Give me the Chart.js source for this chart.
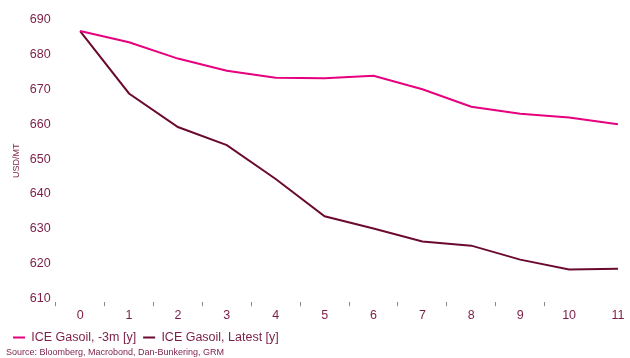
<!DOCTYPE html>
<html>
<head>
<meta charset="utf-8">
<script src="https://cdn.jsdelivr.net/npm/chart.js@4.4.1/dist/chart.umd.min.js"></script>
<style>
  html, body { margin: 0; padding: 0; background: #ffffff; }
  #wrap { width: 630px; height: 358px; }
</style>
</head>
<body>
<div id="wrap"><canvas id="c" width="630" height="358"></canvas></div>
<script>
// Forward curve months ahead
const months = [0, 1, 2, 3, 4, 5, 6, 7, 8, 9, 10, 11];
// ICE Gasoil forward curve three months ago (USD/MT)
const gasoil3m = [686.7, 683.5, 678.8, 675.3, 673.3, 673.2, 673.9, 670.0, 665.0, 663.0, 661.9, 660.0];
// Latest ICE Gasoil forward curve (USD/MT)
const gasoilLatest = [686.7, 668.8, 659.2, 654.0, 644.3, 633.6, 630.1, 626.4, 625.2, 621.2, 618.4, 618.6];
// Value axis labels
const yTicks = [610, 620, 630, 640, 650, 660, 670, 680, 690];
// Tick marks sit between the months
const xMarks = months.slice(0, -1).map(m => m - 0.5);

const TEXT = '#7b1e46';
const PINK = '#e6007e';
const DARK = '#6b0a30';
const FONT = "'Liberation Sans', Arial, sans-serif";

const toPts = arr => arr.map((v, i) => ({ x: months[i], y: v }));

new Chart(document.getElementById('c'), {
  type: 'line',
  data: {
    datasets: [
      {
        label: 'ICE Gasoil, -3m [y]',
        data: toPts(gasoil3m),
        borderColor: PINK,
        backgroundColor: PINK,
        borderWidth: 2,
        pointRadius: 0,
        tension: 0
      },
      {
        label: 'ICE Gasoil, Latest [y]',
        data: toPts(gasoilLatest),
        borderColor: DARK,
        backgroundColor: DARK,
        borderWidth: 2,
        pointRadius: 0,
        tension: 0
      }
    ]
  },
  options: {
    responsive: false,
    animation: false,
    layout: { padding: { top: 19.5, right: 12, left: 6, bottom: 0 } },
    scales: {
      xMarks: {
        type: 'linear',
        position: 'bottom',
        weight: -1,
        min: -0.5,
        max: 11,
        afterBuildTicks: s => { s.ticks = xMarks.map(v => ({ value: v })); },
        ticks: { display: false, padding: 0 },
        grid: { drawOnChartArea: false, drawTicks: true, tickLength: 4, color: '#8a8a8a', lineWidth: 1 },
        border: { display: false }
      },
      x: {
        type: 'linear',
        position: 'bottom',
        weight: 0,
        min: -0.5,
        max: 11,
        afterBuildTicks: s => { s.ticks = months.map(v => ({ value: v })); },
        ticks: { color: TEXT, font: { family: FONT, size: 12.5 }, padding: 1.5, maxRotation: 0 },
        grid: { display: false, drawTicks: false, tickLength: 0 },
        border: { display: false }
      },
      y: {
        type: 'linear',
        min: 609,
        max: 690,
        afterBuildTicks: s => { s.ticks = yTicks.map(v => ({ value: v })); },
        ticks: { color: TEXT, font: { family: FONT, size: 12.5 }, padding: 5 },
        grid: { display: false, drawTicks: false, tickLength: 0 },
        border: { display: false },
        title: {
          display: true,
          text: 'USD/MT',
          color: TEXT,
          font: { family: FONT, size: 9 },
          padding: { top: 5, bottom: 3 }
        }
      }
    },
    plugins: {
      legend: {
        position: 'bottom',
        align: 'start',
        labels: {
          color: TEXT,
          font: { family: FONT, size: 12.5 },
          boxWidth: 12,
          boxHeight: 2,
          padding: 7,
          generateLabels: chart =>
            Chart.defaults.plugins.legend.labels.generateLabels(chart).map(l => ({ ...l, lineWidth: 0 }))
        }
      },
      subtitle: {
        display: true,
        position: 'bottom',
        align: 'start',
        text: 'Source: Bloomberg, Macrobond, Dan-Bunkering, GRM',
        color: TEXT,
        font: { family: FONT, size: 9 },
        padding: { top: -6.5, bottom: 0 }
      },
      tooltip: { enabled: false }
    }
  }
});
</script>
</body>
</html>
